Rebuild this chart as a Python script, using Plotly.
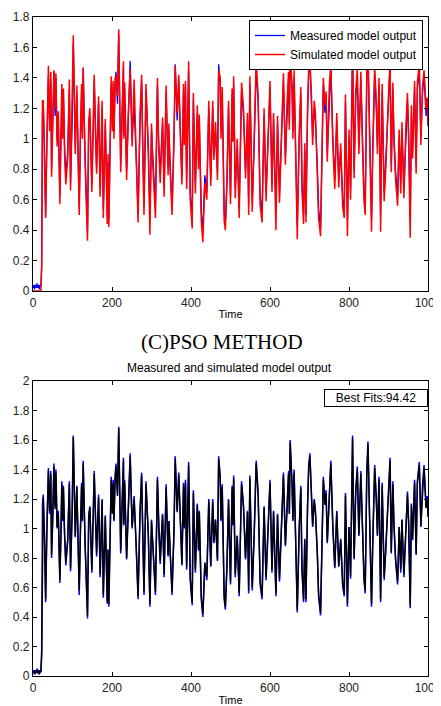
import plotly.graph_objects as go

# time samples
time = [0, 2, 4, 6, 8, 10, 12, 14, 16, 18, 20, 22, 24, 26, 29, 32, 35, 39, 42, 45,
        47, 50, 53, 56, 58, 61, 64, 68, 71, 73, 75, 77, 80, 83, 88, 92, 95, 99, 102, 105,
        107, 111, 114, 117, 120, 123, 125, 127, 132, 135, 138, 141, 144, 149, 152, 155, 158, 161, 166, 170,
        175, 178, 183, 188, 190, 192, 198, 201, 203, 205, 208, 210, 214, 217, 222, 226, 229, 230, 232, 237,
        241, 246, 251, 256, 261, 266, 271, 275, 278, 281, 286, 292, 296, 300, 303, 306, 310, 315, 318, 322,
        325, 328, 332, 337, 342, 344, 347, 352, 357, 360, 365, 369, 373, 377, 381, 383, 386, 389, 394, 398,
        403, 406, 411, 416, 419, 421, 426, 430, 435, 440, 445, 450, 455, 458, 462, 467, 470, 474, 476, 479,
        484, 487, 491, 495, 500, 504, 506, 508, 512, 517, 522, 528, 533, 538, 543, 546, 549, 555, 560, 565,
        570, 575, 580, 585, 590, 595, 600, 605, 609, 615, 619, 624, 629, 634, 639, 643, 647, 649, 651, 656,
        658, 661, 665, 669, 674, 678, 681, 685, 688, 691, 695, 698, 701, 705, 708, 712, 715, 720, 723, 728,
        732, 735, 739, 742, 745, 750, 754, 759, 764, 769, 774, 779, 784, 788, 791, 796, 800, 804, 809, 813,
        817, 821, 825, 830, 834, 838, 841, 845, 848, 853, 857, 860, 865, 869, 872, 876, 880, 884, 889, 893,
        897, 901, 904, 907, 911, 914, 918, 923, 927, 931, 934, 939, 944, 948, 951, 955, 958, 961, 966, 970,
        973, 978, 982, 986, 990, 995, 998, 1000]

measured = [.02, .04, .01, .04, .02, .05, .02, .04, .01, .04, .03, .18, 1.16, 1.23, .95, .50, .97, 1.41, 1.10, 1.39,
            .80, 1.05, 1.44, 1.15, 1.40, 1.00, 1.12, .63, .98, 1.32, 1.05, 1.29, .95, .75, .92, 1.32, .71, 1.10, 1.63, 1.20,
            .94, 1.29, .90, .55, .98, 1.31, 1.05, 1.46, .88, .60, .39, 1.09, 1.15, .70, 1.02, 1.39, 1.10, .81, 1.23, .67,
            1.20, .53, 1.09, .49, .85, .47, 1.35, 1.10, 1.33, 1.05, 1.36, 1.44, 1.23, 1.69, .83, 1.15, 1.48, 1.02, 1.33, .79,
            1.10, 1.51, 1.00, 1.22, .89, .52, 1.12, 1.38, .95, .55, 1.32, .95, .47, 1.06, .90, .75, .55, 1.35, 1.00, .76,
            .95, 1.10, .67, 1.30, .81, 1.05, .85, .55, .99, 1.49, 1.12, 1.38, 1.06, .75, 1.31, 1.00, 1.33, .72, 1.45, .65,
            .48, 1.26, .70, 1.17, .85, 1.12, .52, .40, .76, .65, 1.20, .74, 1.20, .90, 1.06, .78, 1.49, 1.35, 1.05, 1.30,
            .52, .45, .74, 1.20, .62, 1.29, 1.02, 1.36, .67, .95, .54, 1.32, 1.15, .79, 1.12, .56, 1.36, .58, .96, 1.46,
            1.24, .62, .52, 1.15, .65, .97, 1.33, .70, 1.12, .54, 1.10, .64, 1.03, 1.38, .88, 1.18, 1.39, 1.10, 1.60, 1.30,
            1.05, 1.40, .95, .43, 1.00, 1.29, .71, .50, .92, .50, 1.15, 1.43, 1.51, 1.24, 1.01, 1.20, 1.12, .81, .54, .41,
            .99, 1.35, 1.17, 1.26, .90, 1.29, 1.46, 1.01, .73, 1.12, .74, .92, .61, .54, 1.24, .47, 1.01, .66, 1.63, .79,
            1.26, 1.42, .95, 1.39, 1.01, .65, .56, 1.38, 1.59, 1.03, .47, .88, 1.43, 1.21, .95, 1.35, .50, 1.31, .65, .85,
            1.06, 1.31, 1.48, .83, 1.32, 1.01, .78, .62, 1.01, .70, 1.06, .67, 1.03, 1.25, 1.03, .46, 1.17, .92, 1.33, .82,
            1.32, 1.45, 1.01, 1.29, 1.43, 1.15, 1.22, 1.08]

# simulated output, first identification method (red)
simulated = [0, 0, 0, 0, 0, 0, 0, 0, 0, 0, 0, .15, 1.25, 1.25, .90, .48, .95, 1.48, 1.05, 1.44,
             .75, 1.10, 1.45, 1.20, 1.43, .95, 1.18, .57, 1.02, 1.36, 1.00, 1.33, .90, .70, .88, 1.39, .66, 1.15, 1.68, 1.25,
             .90, 1.35, .85, .50, 1.03, 1.36, 1.00, 1.47, .82, .55, .33, 1.12, 1.20, .65, 1.06, 1.42, 1.05, .77, 1.28, .62,
             1.25, .48, 1.13, .44, .90, .42, 1.41, 1.05, 1.38, 1.00, 1.40, 1.41, 1.28, 1.72, .78, 1.20, 1.51, 1.00, 1.37, .73,
             1.15, 1.46, .95, 1.39, .84, .45, 1.16, 1.42, .90, .50, 1.36, .90, .37, 1.10, .85, .70, .48, 1.40, .96, .71,
             1.00, 1.14, .62, 1.35, .76, 1.10, .80, .50, 1.03, 1.48, 1.17, 1.42, 1.01, .70, 1.36, .96, 1.38, .67, 1.51, .60,
             .41, 1.30, .64, 1.22, .80, 1.16, .46, .32, .71, .60, 1.25, .69, 1.25, .86, 1.11, .73, 1.45, 1.40, 1.00, 1.34,
             .46, .40, .70, 1.25, .57, 1.33, .98, 1.41, .61, 1.00, .48, 1.37, 1.20, .74, 1.17, .50, 1.41, .52, 1.01, 1.52,
             1.28, .56, .45, 1.20, .59, 1.02, 1.38, .65, 1.17, .40, 1.15, .58, 1.08, 1.43, .83, 1.23, 1.44, 1.06, 1.55, 1.34,
             1.00, 1.45, .90, .34, 1.04, 1.34, .66, .44, .97, .45, 1.20, 1.47, 1.51, 1.28, .96, 1.25, 1.17, .76, .48, .36,
             1.04, 1.40, 1.22, 1.31, .85, 1.34, 1.50, .96, .67, 1.17, .68, .97, .55, .48, 1.29, .36, 1.06, .60, 1.55, .74,
             1.31, 1.46, .90, 1.44, .96, .59, .50, 1.43, 1.55, .98, .39, .93, 1.47, 1.26, .90, 1.40, .39, 1.36, .59, .80,
             1.11, 1.35, 1.50, .78, 1.37, .96, .73, .56, 1.06, .64, 1.11, .61, 1.08, 1.30, .98, .35, 1.22, .87, 1.38, .77,
             1.37, 1.49, .96, 1.34, 1.45, 1.20, 1.27, 1.10]

# simulated output, PSO method (black)
pso = [.02, .03, .02, .03, .02, .04, .02, .04, .02, .03, .03, .13, 1.13, 1.21, .96, .52, .98, 1.39, 1.12, 1.37,
       .82, 1.04, 1.42, 1.13, 1.38, 1.01, 1.10, .65, .97, 1.30, 1.06, 1.27, .96, .77, .93, 1.30, .73, 1.09, 1.62, 1.18,
       .95, 1.28, .91, .58, .97, 1.29, 1.06, 1.44, .89, .62, .41, 1.08, 1.14, .72, 1.01, 1.37, 1.10, .83, 1.21, .69,
       1.19, .55, 1.08, .50, .86, .49, 1.33, 1.10, 1.31, 1.06, 1.34, 1.42, 1.22, 1.68, .85, 1.14, 1.46, 1.03, 1.31, .80,
       1.09, 1.49, 1.01, 1.20, .90, .54, 1.11, 1.36, .96, .57, 1.30, .96, .49, 1.05, .91, .76, .57, 1.33, 1.01, .78,
       .95, 1.09, .69, 1.28, .82, 1.05, .86, .57, .99, 1.47, 1.11, 1.36, 1.06, .76, 1.29, 1.01, 1.31, .74, 1.43, .67,
       .50, 1.24, .72, 1.16, .86, 1.11, .54, .42, .77, .67, 1.19, .75, 1.18, .91, 1.06, .79, 1.47, 1.33, 1.06, 1.28,
       .54, .47, .75, 1.19, .64, 1.27, 1.03, 1.34, .69, .95, .56, 1.30, 1.14, .80, 1.11, .58, 1.34, .60, .96, 1.44,
       1.22, .64, .54, 1.14, .67, .97, 1.31, .72, 1.11, .56, 1.09, .66, 1.03, 1.36, .89, 1.17, 1.37, 1.10, 1.58, 1.28,
       1.06, 1.38, .96, .45, 1.00, 1.27, .73, .52, .93, .52, 1.14, 1.41, 1.49, 1.22, 1.02, 1.19, 1.11, .82, .56, .43,
       .99, 1.33, 1.16, 1.24, .91, 1.27, 1.44, 1.02, .74, 1.11, .75, .93, .63, .56, 1.22, .49, 1.01, .68, 1.61, .80,
       1.24, 1.40, .96, 1.37, 1.02, .67, .58, 1.36, 1.57, 1.03, .49, .89, 1.41, 1.20, .96, 1.33, .52, 1.29, .67, .86,
       1.06, 1.29, 1.46, .84, 1.30, 1.02, .79, .64, 1.01, .72, 1.06, .69, 1.03, 1.23, 1.04, .48, 1.16, .93, 1.31, .83,
       1.30, 1.43, 1.02, 1.27, 1.41, 1.14, 1.20, 1.08]

x_ticks = [0, 200, 400, 600, 800, 1000]
font = "Liberation Sans, Arial, sans-serif"

# the page body has an 8px margin, so the figure is 8px smaller than the window
W, H, OFF = 433, 698, 8


def px(x):
    return (x - OFF) / W


def py(y):
    return 1 - (y - OFF) / H


fig = go.Figure()
fig.add_trace(go.Scatter(x=time, y=measured, mode="lines", name="Measured model output",
                         line=dict(color="#0000ff", width=1.3), xaxis="x", yaxis="y"))
fig.add_trace(go.Scatter(x=time, y=simulated, mode="lines", name="Simulated model output",
                         line=dict(color="#ff0000", width=1.5), xaxis="x", yaxis="y"))
fig.add_trace(go.Scatter(x=time, y=measured, mode="lines", showlegend=False,
                         line=dict(color="#0000ff", width=1.5), xaxis="x2", yaxis="y2"))
fig.add_trace(go.Scatter(x=time, y=pso, mode="lines", showlegend=False,
                         line=dict(color="#000000", width=1.4), xaxis="x2", yaxis="y2"))

axis_style = dict(showline=True, linecolor="black", linewidth=1.2, mirror="ticks",
                  ticks="inside", ticklen=4, tickcolor="black", showgrid=False, zeroline=False,
                  automargin=False, ticklabeloverflow="allow",
                  tickfont=dict(family=font, size=12, color="#222"))

x_dom = [px(33), px(428)]
fig.update_layout(
    width=W, height=H,
    margin=dict(l=0, r=0, t=0, b=0, autoexpand=False),
    paper_bgcolor="white", plot_bgcolor="white",
    font=dict(family=font, size=12, color="black"),
    xaxis=dict(domain=x_dom, anchor="y", range=[0, 1000], tickvals=x_ticks,
               title=dict(text="Time", standoff=1, font=dict(size=11)), **axis_style),
    yaxis=dict(domain=[py(291), py(17)], anchor="x", range=[0, 1.8], dtick=0.2, **axis_style),
    xaxis2=dict(domain=x_dom, anchor="y2", range=[0, 1000], tickvals=x_ticks,
                title=dict(text="Time", standoff=3, font=dict(size=11)), **axis_style),
    yaxis2=dict(domain=[py(676), py(381)], anchor="x2", range=[0, 2], dtick=0.2, **axis_style),
    legend=dict(x=px(423), y=py(20), xanchor="right", yanchor="top",
                bgcolor="white", bordercolor="black", borderwidth=1,
                font=dict(family=font, size=12), tracegroupgap=0),
    annotations=[
        dict(text="(C)PSO METHOD", x=px(222), y=py(342), xref="paper", yref="paper",
             showarrow=False, font=dict(family="Liberation Serif, Times New Roman, serif", size=21)),
        dict(text="Measured and simulated model output", x=px(229), y=py(368),
             xref="paper", yref="paper", showarrow=False, font=dict(size=12)),
        dict(text="Best Fits:94.42", x=px(428), y=py(389), xref="paper", yref="paper",
             xanchor="right", yanchor="top", showarrow=False, bgcolor="white",
             bordercolor="black", borderwidth=1, borderpad=1, width=100, font=dict(size=12)),
    ],
    showlegend=True,
)

fig.write_html("out.html")
